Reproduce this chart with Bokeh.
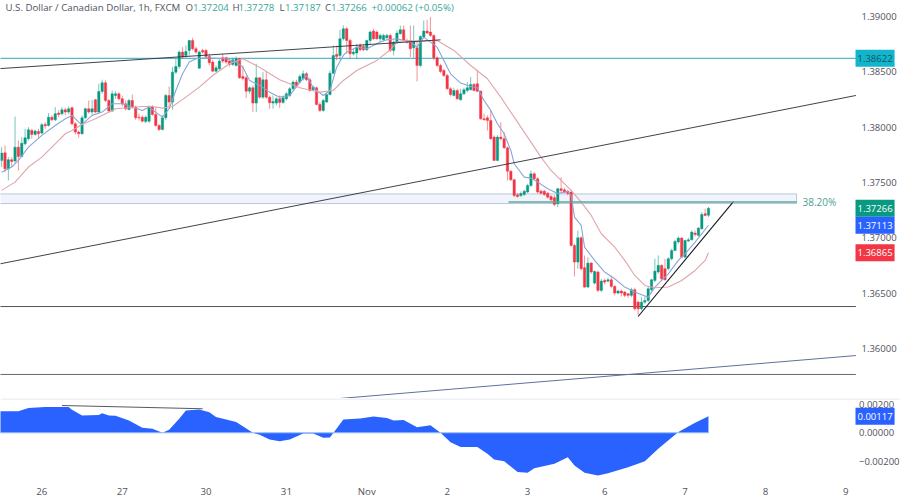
from bokeh.plotting import figure
from bokeh.layouts import column
from bokeh.models import Range1d, FixedTicker, Label, Span
from bokeh.embed import file_html
from bokeh.resources import INLINE

opens = [1.37699,1.37768,1.37623,1.37705,1.37693,1.37819,1.37735,1.37849,1.37895,1.37970,
1.37934,1.37961,1.37946,1.38024,1.38015,1.38090,1.38066,1.38127,1.38121,1.38157,
1.38136,1.38175,1.38030,1.37955,1.37940,1.38084,1.38166,1.38136,1.38247,1.38136,
1.38322,1.38401,1.38241,1.38145,1.38286,1.38301,1.38256,1.38211,1.38160,1.38241,
1.38181,1.38090,1.38090,1.38051,1.38054,1.38187,1.38115,1.38015,1.37979,1.38084,
1.38286,1.38226,1.38497,1.38548,1.38678,1.38648,1.38693,1.38783,1.38708,1.38533,
1.38693,1.38693,1.38639,1.38588,1.38506,1.38527,1.38627,1.38627,1.38597,1.38567,
1.38558,1.38618,1.38458,1.38446,1.38325,1.38356,1.38217,1.38446,1.38271,1.38428,
1.38271,1.38217,1.38217,1.38256,1.38223,1.38256,1.38286,1.38347,1.38407,1.38407,
1.38437,1.38482,1.38428,1.38338,1.38356,1.38205,1.38151,1.38226,1.38295,1.38488,
1.38657,1.38648,1.38799,1.38889,1.38783,1.38663,1.38669,1.38738,1.38729,1.38699,
1.38783,1.38868,1.38859,1.38799,1.38789,1.38808,1.38829,1.38693,1.38769,1.38844,
1.38880,1.38783,1.38783,1.38717,1.38717,1.38557,1.38814,1.38868,1.38859,1.38829,
1.38627,1.38557,1.38512,1.38467,1.38347,1.38286,1.38331,1.38247,1.38301,1.38331,
1.38338,1.38386,1.38392,1.38325,1.38075,1.38084,1.38060,1.37910,1.37699,1.37910,
1.37895,1.37813,1.37602,1.37524,1.37388,1.37382,1.37391,1.37413,1.37473,1.37578,
1.37533,1.37421,1.37421,1.37403,1.37373,1.37361,1.37307,1.37443,1.37433,1.37421,
1.37413,1.36930,1.36780,1.37000,1.36729,1.36554,1.36771,1.36590,1.36690,1.36524,
1.36614,1.36608,1.36620,1.36560,1.36500,1.36518,1.36509,1.36494,1.36479,1.36530,
1.36418,1.36358,1.36418,1.36433,1.36530,1.36614,1.36690,1.36750,1.36720,1.36720,
1.36810,1.36885,1.36961,1.36997,1.36825,1.36970,1.36982,1.37042,1.37021,1.37081,
1.37217,1.37204]

highs = [1.37819,1.37834,1.37729,1.37729,1.38096,1.37880,1.37910,1.37985,1.38000,1.37985,
1.37976,1.37985,1.38036,1.38045,1.38127,1.38106,1.38181,1.38151,1.38181,1.38175,
1.38187,1.38187,1.38045,1.37970,1.38106,1.38175,1.38241,1.38247,1.38256,1.38392,
1.38428,1.38422,1.38256,1.38331,1.38325,1.38316,1.38286,1.38241,1.38256,1.38295,
1.38196,1.38121,1.38106,1.38106,1.38196,1.38199,1.38181,1.38030,1.38106,1.38301,
1.38368,1.38542,1.38618,1.38693,1.38723,1.38738,1.38789,1.38808,1.38729,1.38693,
1.38708,1.38708,1.38663,1.38609,1.38557,1.38618,1.38663,1.38639,1.38609,1.38627,
1.38639,1.38627,1.38558,1.38467,1.38368,1.38377,1.38573,1.38452,1.38497,1.38506,
1.38286,1.38286,1.38271,1.38286,1.38286,1.38316,1.38362,1.38422,1.38428,1.38476,
1.38512,1.38497,1.38446,1.38377,1.38368,1.38226,1.38256,1.38307,1.38512,1.38738,
1.38738,1.38880,1.38919,1.38904,1.38799,1.38708,1.38753,1.38759,1.38747,1.38789,
1.38874,1.38889,1.38874,1.38844,1.38844,1.38844,1.38844,1.38783,1.38874,1.38919,
1.38919,1.38799,1.38919,1.38919,1.38769,1.38829,1.38964,1.38970,1.38994,1.38838,
1.38639,1.38573,1.38527,1.38482,1.38362,1.38356,1.38347,1.38347,1.38356,1.38407,
1.38452,1.38398,1.38518,1.38331,1.38121,1.38106,1.38151,1.37925,1.37925,1.38045,
1.37955,1.37825,1.37608,1.37533,1.37403,1.37418,1.37433,1.37488,1.37608,1.37593,
1.37548,1.37433,1.37433,1.37415,1.37385,1.37382,1.37452,1.37548,1.37452,1.37433,
1.37433,1.36946,1.37066,1.37012,1.36840,1.36825,1.36780,1.36704,1.36704,1.36629,
1.36629,1.36638,1.36659,1.36569,1.36530,1.36530,1.36518,1.36500,1.36548,1.36548,
1.36433,1.36463,1.36469,1.36560,1.36629,1.36810,1.36840,1.36759,1.36810,1.36825,
1.36900,1.36982,1.37012,1.37006,1.36982,1.37000,1.37066,1.37066,1.37096,1.37232,
1.37262,1.37278]

lows = [1.37639,1.37593,1.37518,1.37639,1.37669,1.37608,1.37729,1.37834,1.37880,1.37895,
1.37922,1.37895,1.37934,1.37985,1.38006,1.38054,1.38054,1.38090,1.38106,1.38106,
1.38115,1.38015,1.37934,1.37904,1.37931,1.38075,1.38121,1.38115,1.38127,1.38121,
1.38301,1.38226,1.38130,1.38136,1.38256,1.38241,1.38187,1.38151,1.38151,1.38166,
1.38066,1.38060,1.38042,1.38036,1.38036,1.38103,1.38000,1.37964,1.37970,1.38066,
1.38166,1.38157,1.38482,1.38527,1.38618,1.38627,1.38648,1.38693,1.38663,1.38527,
1.38663,1.38627,1.38558,1.38497,1.38497,1.38518,1.38579,1.38573,1.38548,1.38554,
1.38548,1.38437,1.38422,1.38265,1.38301,1.38136,1.38136,1.38256,1.38256,1.38256,
1.38166,1.38166,1.38196,1.38175,1.38211,1.38241,1.38271,1.38331,1.38356,1.38392,
1.38422,1.38416,1.38316,1.38325,1.38196,1.38136,1.38139,1.38217,1.38286,1.38476,
1.38603,1.38603,1.38783,1.38663,1.38618,1.38648,1.38618,1.38687,1.38687,1.38687,
1.38753,1.38789,1.38789,1.38769,1.38777,1.38795,1.38678,1.38648,1.38753,1.38838,
1.38769,1.38753,1.38633,1.38627,1.38413,1.38542,1.38799,1.38844,1.38814,1.38603,
1.38542,1.38488,1.38452,1.38338,1.38277,1.38277,1.38247,1.38241,1.38289,1.38316,
1.38331,1.38322,1.38316,1.38066,1.38060,1.37970,1.37886,1.37693,1.37693,1.37880,
1.37804,1.37518,1.37512,1.37367,1.37361,1.37367,1.37379,1.37403,1.37458,1.37518,
1.37400,1.37391,1.37379,1.37355,1.37331,1.37286,1.37277,1.37403,1.37400,1.37382,
1.36921,1.36650,1.36720,1.36704,1.36548,1.36548,1.36674,1.36578,1.36509,1.36509,
1.36578,1.36596,1.36548,1.36479,1.36488,1.36469,1.36463,1.36457,1.36463,1.36343,
1.36298,1.36343,1.36403,1.36418,1.36518,1.36599,1.36674,1.36614,1.36614,1.36704,
1.36795,1.36879,1.36946,1.36819,1.36819,1.36961,1.36976,1.37012,1.37012,1.37072,
1.37193,1.37187]

closes = [1.37765,1.37623,1.37705,1.37690,1.37819,1.37735,1.37855,1.37904,1.37976,1.37934,
1.37964,1.37940,1.38021,1.38012,1.38090,1.38066,1.38121,1.38115,1.38157,1.38136,
1.38166,1.38030,1.37955,1.37940,1.38084,1.38166,1.38136,1.38166,1.38136,1.38322,
1.38401,1.38241,1.38145,1.38301,1.38301,1.38256,1.38211,1.38166,1.38241,1.38181,
1.38084,1.38084,1.38054,1.38090,1.38187,1.38115,1.38015,1.37979,1.38084,1.38286,
1.38226,1.38497,1.38548,1.38678,1.38633,1.38684,1.38783,1.38708,1.38678,1.38678,
1.38678,1.38639,1.38582,1.38506,1.38536,1.38597,1.38597,1.38588,1.38567,1.38609,
1.38618,1.38446,1.38440,1.38325,1.38356,1.38217,1.38446,1.38271,1.38428,1.38271,
1.38220,1.38232,1.38256,1.38223,1.38265,1.38301,1.38347,1.38407,1.38368,1.38458,
1.38482,1.38428,1.38331,1.38362,1.38205,1.38151,1.38241,1.38295,1.38488,1.38648,
1.38639,1.38799,1.38889,1.38783,1.38663,1.38678,1.38723,1.38699,1.38699,1.38783,
1.38859,1.38799,1.38799,1.38829,1.38829,1.38829,1.38693,1.38769,1.38850,1.38880,
1.38783,1.38769,1.38708,1.38769,1.38557,1.38820,1.38868,1.38850,1.38829,1.38627,
1.38557,1.38503,1.38467,1.38347,1.38295,1.38331,1.38256,1.38301,1.38338,1.38356,
1.38386,1.38331,1.38325,1.38075,1.38066,1.38060,1.37895,1.37699,1.37910,1.37895,
1.37813,1.37602,1.37524,1.37382,1.37373,1.37400,1.37421,1.37473,1.37578,1.37533,
1.37413,1.37403,1.37391,1.37367,1.37343,1.37301,1.37443,1.37428,1.37413,1.37400,
1.36930,1.36780,1.37000,1.36720,1.36554,1.36771,1.36690,1.36695,1.36524,1.36608,
1.36599,1.36620,1.36560,1.36500,1.36518,1.36500,1.36479,1.36479,1.36530,1.36358,
1.36358,1.36418,1.36433,1.36539,1.36620,1.36698,1.36750,1.36629,1.36620,1.36810,
1.36885,1.36967,1.36997,1.36825,1.36976,1.36982,1.37051,1.37030,1.37087,1.37211,
1.37202,1.37266]

fast_bars = [0,3,5,8,12,16,19,21,23,24,27,30,33,36,42,44,48,50,52,54,56,58,61,67,70,72,74,77,80,83,86,89,91,93,96,98,100,102,103,106,109,113,115,118,122,124,126,130,132,134,137,140,142,144,146,148,150,152,153,156,158,160,163,166,169,170,171,173,174,177,180,183,186,189,193,195,197,199,202,204,207,211]
fast_ma = [1.37593,1.37639,1.37699,1.37819,1.37925,1.38015,1.38075,1.38106,1.38045,1.38024,1.38106,1.38136,1.38211,1.38211,1.38151,1.38181,1.38090,1.38166,1.38331,1.38482,1.38588,1.38618,1.38627,1.38618,1.38588,1.38542,1.38422,1.38377,1.38316,1.38271,1.38286,1.38407,1.38467,1.38356,1.38286,1.38331,1.38542,1.38648,1.38678,1.38723,1.38708,1.38769,1.38789,1.38799,1.38769,1.38723,1.38814,1.38723,1.38603,1.38482,1.38398,1.38368,1.38356,1.38241,1.38151,1.38030,1.37940,1.37789,1.37669,1.37548,1.37539,1.37503,1.37443,1.37400,1.37418,1.37382,1.37187,1.37111,1.36915,1.36795,1.36690,1.36629,1.36554,1.36509,1.36463,1.36554,1.36614,1.36674,1.36795,1.36855,1.36961,1.37113]

slow_bars = [0,4,8,12,16,19,21,24,28,31,34,38,42,45,48,51,55,59,63,68,72,76,79,83,89,95,99,102,106,112,116,118,120,125,130,135,140,145,149,153,157,161,164,167,170,173,176,179,183,186,189,192,195,199,203,207,210,211]
slow_ma = [1.37428,1.37503,1.37639,1.37729,1.37849,1.37940,1.37970,1.38024,1.38075,1.38121,1.38166,1.38175,1.38187,1.38187,1.38172,1.38187,1.38271,1.38362,1.38467,1.38573,1.38618,1.38558,1.38503,1.38428,1.38356,1.38316,1.38331,1.38422,1.38512,1.38603,1.38699,1.38769,1.38783,1.38777,1.38783,1.38693,1.38557,1.38437,1.38271,1.38090,1.37910,1.37729,1.37608,1.37518,1.37428,1.37322,1.37202,1.37036,1.36915,1.36795,1.36659,1.36569,1.36548,1.36554,1.36614,1.36704,1.36795,1.36865]

osc_bars = [-1,5,8,13,20,21,24,29,30,32,34,38,42,45,48,50,53,55,59,62,64,70,75,77,80,83,86,90,93,96,98,102,107,111,115,117,120,124,128,131,134,137,142,145,147,150,154,157,159,165,169,171,174,178,181,187,192,196,202,207,211]
osc_vals = [0.00153,0.00153,0.00175,0.00182,0.00182,0.00163,0.00123,0.00125,0.00139,0.00123,0.00120,0.00087,0.00035,0.00028,0.0,0.00021,0.00099,0.00158,0.00165,0.00146,0.00111,0.00076,0.0,-0.00014,-0.00047,-0.00059,-0.00047,-0.00005,-0.00005,-0.00035,-0.00033,0.00094,0.00101,0.00116,0.00104,0.00087,0.00090,0.00040,0.00054,0.0,-0.00066,-0.00101,-0.00101,-0.00149,-0.00189,-0.00201,-0.00278,-0.00283,-0.00250,-0.00219,-0.00172,-0.00231,-0.00283,-0.00302,-0.00286,-0.00243,-0.00201,-0.00113,0.00005,0.00071,0.00117]

price_ticks = [1.36,1.365,1.37,1.375,1.38,1.385,1.39]
osc_ticks = [-0.002,0.0,0.002]
day_bars = [12,36,61,85,109,133,157,180,204,228,252]
day_labels = ["26","27","30","31","Nov","2","3","6","7","8","9"]

# drawings: (bar, price) end points
rising_top_bars, rising_top_prices = [-1,131], [1.38528,1.38789]
rising_mid_bars, rising_mid_prices = [-1,255], [1.36761,1.38286]
rising_low_bars, rising_low_prices = [101,255], [1.35547,1.35935]
swing_bars, swing_prices = [190,218.5], [1.36288,1.37328]
support_a, support_b, resistance = 1.36378, 1.35764, 1.38622
level_bars = [-1,255]
fib_bars, fib_level = [151.3,237.3], 1.37324
zone_bars, zone_prices = [-2,237.3], [1.37309,1.37396]
osc_line_bars, osc_line_vals = [18,60], [0.00193,0.00170]

# last values shown as tags
fast_last, slow_last, close_last, osc_last = 1.37113, 1.36865, 1.37266, 0.00117

def X(px):
    return (px - 1.15) / 3.35

def Y(px):
    return 1.39 - (px - 16) * 0.0000904

def VY(px):
    return (432.3 - px) * 0.0000707

FONT = "Open Sans"
GREEN, RED = "#089981", "#f23645"
GREY, TEAL = "#50535e", "#3aa596"
x_range = Range1d(X(0), X(900))

def price_axis(a, ticks, labels, px):
    a.fixed_location = X(px)
    a.ticker = FixedTicker(ticks=ticks)
    a.major_label_overrides = labels
    a.axis_line_color = None
    a.major_tick_line_color = None
    a.minor_tick_line_color = None
    a.major_tick_out = 0
    a.major_tick_in = 0
    a.minor_tick_out = 0
    a.minor_tick_in = 0
    a.major_label_standoff = 0
    a.major_label_text_font = FONT
    a.major_label_text_font_size = "9.5px"
    a.major_label_text_color = GREY

p = figure(width=900, height=398, x_range=x_range, y_range=Range1d(Y(398), Y(0)),
           toolbar_location=None, output_backend="svg", y_axis_location="right",
           min_border_left=0, min_border_right=0, min_border_top=0, min_border_bottom=0,
           outline_line_color=None, x_axis_location=None, background_fill_color="white")
p.grid.visible = False
price_axis(p.yaxis[0], price_ticks, {t: f"{t:.5f}" for t in price_ticks}, 861)

p.quad(left=zone_bars[0], right=zone_bars[1], bottom=zone_prices[0], top=zone_prices[1],
       fill_color="#f1f5fb", line_color="#b9c7dc", line_width=1)
p.line(level_bars, [support_a, support_a], line_color="#3c3f47", line_width=0.9)
p.line(level_bars, [support_b, support_b], line_color="#555962", line_width=0.9)
p.line(level_bars, [resistance, resistance], line_color="#5cbac8", line_width=1.2)
p.line(rising_low_bars, rising_low_prices, line_color="#5f7199", line_width=1)

n = len(closes)
idx = list(range(n))
cols = [GREEN if c >= o else RED for o, c in zip(opens, closes)]
p.segment(idx, lows, idx, highs, line_color=cols, line_width=1, line_alpha=0.55)
p.vbar(x=idx, bottom=[min(o, c) for o, c in zip(opens, closes)],
       top=[max(o, c) for o, c in zip(opens, closes)], width=0.72,
       fill_color=cols, line_color=cols, line_width=0.4)

p.line(fast_bars, fast_ma, line_color="#8aa5d6", line_width=1.1)
p.line(slow_bars, slow_ma, line_color="#e0a5a8", line_width=1.1)

p.line(rising_top_bars, rising_top_prices, line_color="#2a2e39", line_width=0.9)
p.line(rising_mid_bars, rising_mid_prices, line_color="#2a2e39", line_width=0.9)
p.line(swing_bars, swing_prices, line_color="#131722", line_width=1.1)
p.line(fib_bars, [fib_level, fib_level], line_color="#5da89a", line_width=1.5)

def txt(fig, px, y, text, color, size="9.7px", bg=None):
    lab = Label(x=X(px), y=y, text=text, text_color=color, text_font=FONT, text_font_size=size,
                text_baseline="middle", text_align="left")
    if bg:
        lab.background_fill_color = bg
        lab.padding = (2, 5)
    fig.add_layout(lab)

txt(p, 802, fib_level, "38.20%", "#4f9e96", "10px")

HDR = Y(7)
txt(p, 5, HDR, "U.S. Dollar / Canadian Dollar, 1h, FXCM", GREY)
for px, s, c in [(185, "O", GREY), (192.5, f"{opens[-1]:.5f}", TEAL),
                 (232, "H", GREY), (238, f"{highs[-1]:.5f}", TEAL),
                 (279, "L", GREY), (284.5, f"{lows[-1]:.5f}", TEAL),
                 (324.5, "C", GREY), (330.5, f"{closes[-1]:.5f}", TEAL),
                 (371, "+0.00062 (+0.05%)", TEAL)]:
    txt(p, px, HDR, s, c)

txt(p, 855, resistance, f"{resistance:.5f}", "#0f5560", "9.5px", bg="#12b5cb")
txt(p, 855, close_last, f"{close_last:.5f}", "white", "9.5px", bg=GREEN)
txt(p, 855, fast_last, f"{fast_last:.5f}", "white", "9.5px", bg="#2962ff")
txt(p, 855, slow_last, f"{slow_last:.5f}", "white", "9.5px", bg="#f23645")

q = figure(width=900, height=101, x_range=x_range, y_range=Range1d(VY(499), VY(398)),
           toolbar_location=None, output_backend="svg", y_axis_location="right",
           min_border_left=0, min_border_right=0, min_border_top=0, min_border_bottom=0,
           outline_line_color=None, background_fill_color="white")
q.grid.visible = False
price_axis(q.yaxis[0], osc_ticks, {-0.002: "\u22120.00200", 0.0: "0.00000", 0.002: "0.00200"}, 858.5)
xa = q.xaxis[0]
xa.fixed_location = VY(484.5)
xa.ticker = FixedTicker(ticks=day_bars)
xa.major_label_overrides = dict(zip(day_bars, day_labels))
xa.axis_line_color = None
xa.major_tick_line_color = None
xa.minor_tick_line_color = None
xa.major_tick_out = 0
xa.major_tick_in = 0
xa.minor_tick_out = 0
xa.minor_tick_in = 0
xa.major_label_standoff = 0
xa.major_label_text_font = FONT
xa.major_label_text_font_size = "9.7px"
xa.major_label_text_color = GREY

q.add_layout(Span(location=VY(398.5), dimension="width", line_color="#e0e3eb", line_width=1))
q.varea(x=osc_bars, y1=[0.0] * len(osc_bars), y2=osc_vals, fill_color="#2962ff")
q.line([osc_bars[0], osc_bars[-1]], [0.0, 0.0], line_color="#90bff9", line_width=1)
q.line([osc_bars[-1], osc_bars[-1]], [0.0, osc_vals[-1]], line_color="#90bff9", line_width=1)
q.line(osc_line_bars, osc_line_vals, line_color="#555962", line_width=1)
txt(q, 855, osc_last, f"{osc_last:.5f}", "white", "9.5px", bg="#2962ff")

layout = column(p, q, spacing=0)
open("out.html", "w").write(file_html(layout, INLINE))
